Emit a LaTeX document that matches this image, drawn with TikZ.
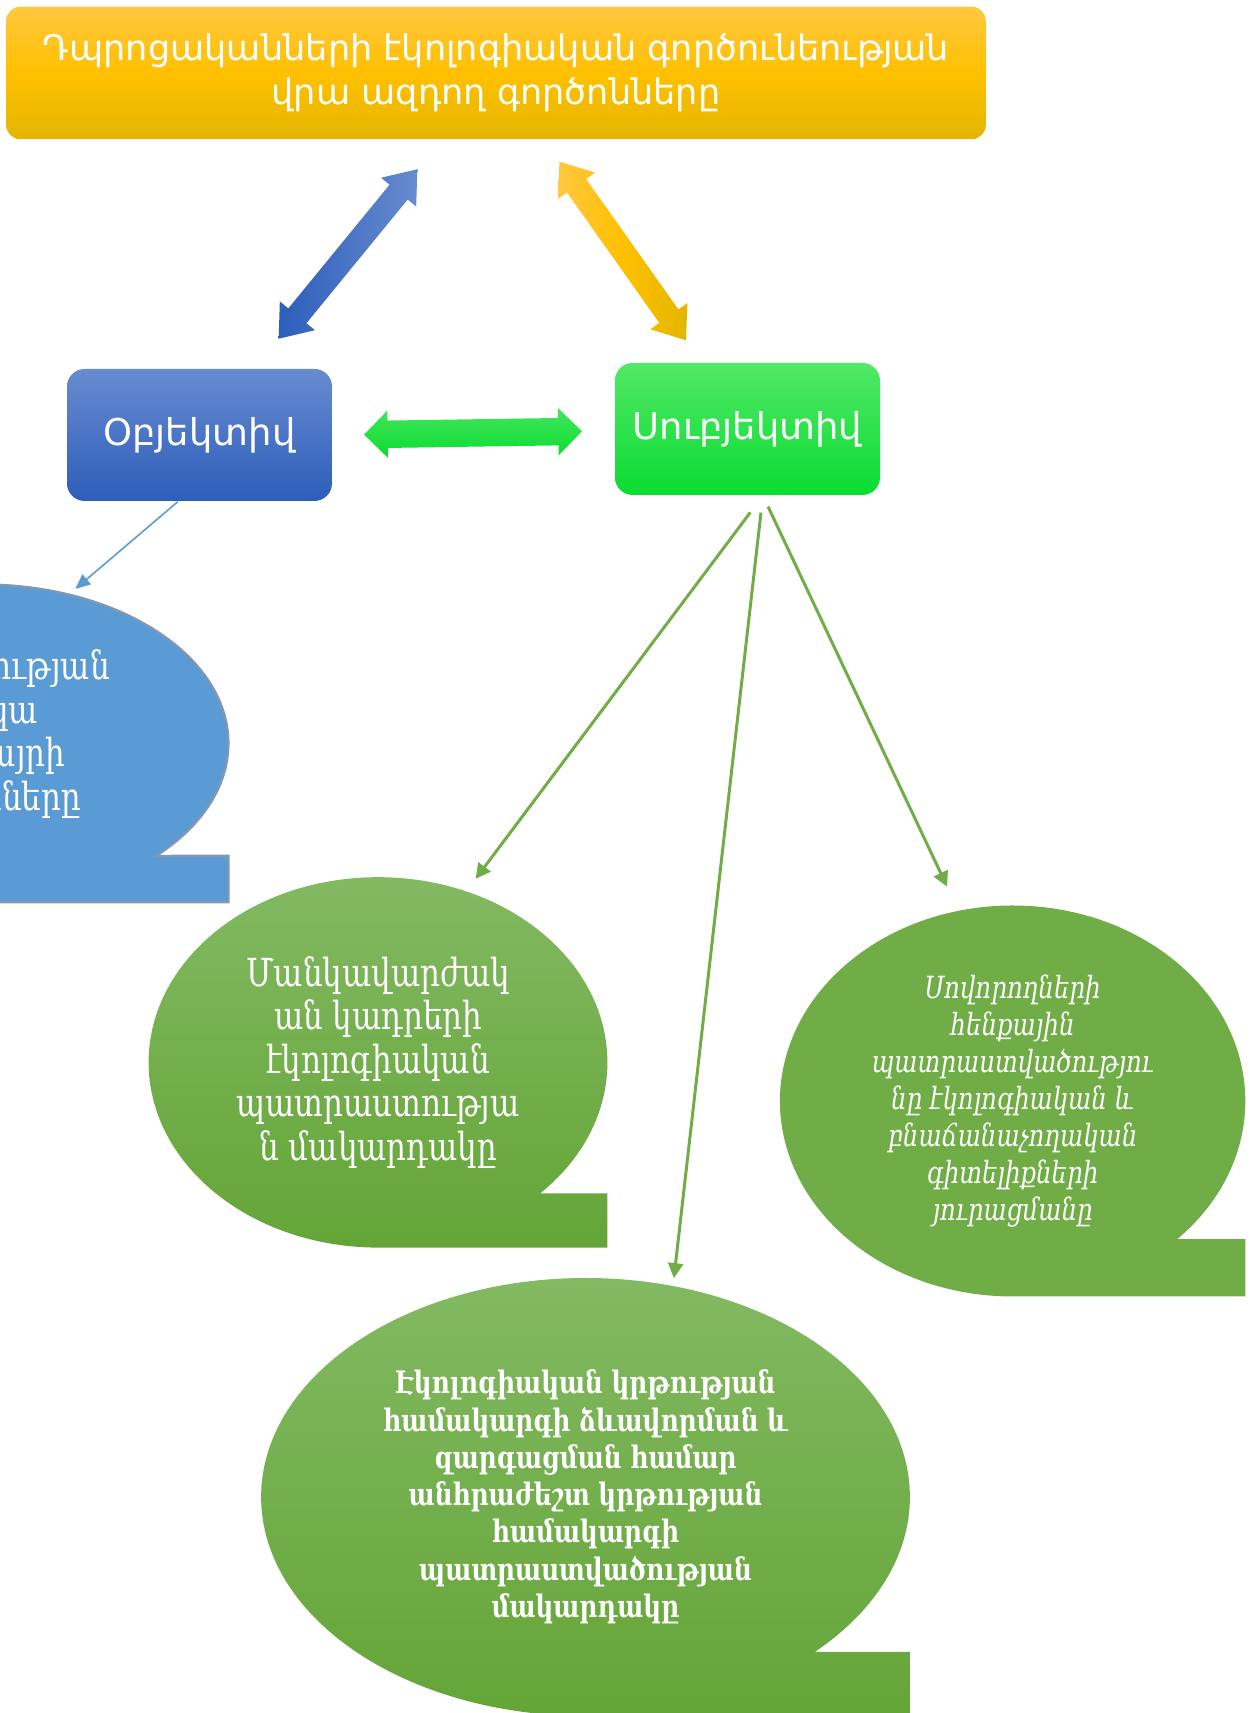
\documentclass[tikz,border=0pt]{standalone}
\usepackage{fontspec}
\setmainfont[FakeStretch=0.8]{DejaVu Serif}
\newfontfamily\armsans{DejaVu Sans}
\usepackage{tikz}
\usetikzlibrary{arrows.meta, positioning, shapes.geometric, shapes.arrows}
\definecolor{TitleTop}{RGB}{255,200,64}
\definecolor{TitleMid}{RGB}{255,192,0}
\definecolor{TitleBottom}{RGB}{228,182,0}
\definecolor{BlueTop}{RGB}{104,139,208}
\definecolor{BlueBottom}{RGB}{45,94,186}
\definecolor{LimeTop}{RGB}{82,232,102}
\definecolor{LimeBottom}{RGB}{10,220,50}
\definecolor{LeafGreen}{RGB}{112,173,71}
\definecolor{LeafTop}{RGB}{132,186,100}
\definecolor{LeafBottom}{RGB}{100,165,55}
\definecolor{SkyBlue}{RGB}{91,155,213}
\definecolor{SkyBorder}{RGB}{132,151,176}

\begin{document}
\begin{tikzpicture}[
		titleNode/.style={
			rectangle, rounded corners=4pt, draw=none,
			minimum width=9.795cm, minimum height=1.325cm,
			align=center, text=white, font=\armsans\fontsize{10}{12.4}\selectfont,
			top color=TitleTop, bottom color=TitleBottom, middle color=TitleMid
		},
		base/.style={
			rectangle, rounded corners=5pt, draw=none,
			minimum width=2.65cm, minimum height=1.32cm,
			align=center, text=white, font=\armsans\fontsize{10.5}{13}\selectfont
		},
		blueBox/.style={base, top color=BlueTop, bottom color=BlueBottom},
		limeBox/.style={base, top color=LimeTop, bottom color=LimeBottom},
		bigArrow/.style={
			double arrow, draw=none, inner xsep=0pt, inner ysep=0.11cm,
			minimum height=2.19cm,
			double arrow head extend=0.11cm, double arrow tip angle=75
		},
		blueArrow/.style={bigArrow, left color=BlueBottom, right color=BlueTop},
		yellowArrow/.style={bigArrow, left color=TitleTop, right color=TitleBottom, middle color=TitleMid},
		limeArrow/.style={bigArrow, minimum height=2.18cm, inner ysep=0.13cm,
			double arrow head extend=0.10cm, double arrow tip angle=90,
			top color=LimeTop!80!LimeBottom, bottom color=LimeBottom},
		bubbleShade/.style={top color=LeafTop, bottom color=LeafBottom},
		bubbleText/.style={ellipse, inner sep=0pt, align=center, text=white},
		greenLink/.style={-{Triangle[length=0.15cm, width=0.15cm]}, line width=0.85pt, LeafGreen},
		blueLink/.style={-{Triangle[length=0.15cm, width=0.13cm]}, line width=0.45pt, SkyBlue}
		]
		\useasboundingbox (0,0) rectangle (12.53,17.13);
		\clip (0,0) rectangle (12.53,17.13);
		
		% bubble bodies
		\path[fill=SkyBlue, draw=SkyBorder, line width=0.6pt] (-0.175,9.696) ++(-45:2.46 and 1.59) arc[start angle=-45, end angle=270, x radius=2.46, y radius=1.59] -- ++(2.46,0) -- ++(0,0.466) -- cycle;
		\path[bubbleShade] (3.78,6.506) ++(-45:2.294 and 1.852) arc[start angle=-45, end angle=270, x radius=2.294, y radius=1.852] -- ++(2.294,0) -- ++(0,0.542) -- cycle;
		\path[fill=LeafGreen] (10.126,6.12) ++(-45:2.327 and 1.955) arc[start angle=-45, end angle=270, x radius=2.327, y radius=1.955] -- ++(2.327,0) -- ++(0,0.573) -- cycle;
		\path[bubbleShade] (5.855,2.16) ++(-45:3.244 and 2.19) arc[start angle=-45, end angle=270, x radius=3.244, y radius=2.19] -- ++(3.244,0) -- ++(0,0.642) -- cycle;
		
		\node[titleNode] (title) at (4.96,16.40) {Դպրոցականների  էկոլոգիական գործունեության \\ վրա ազդող  գործոնները};
		\node[blueBox] (obj) at (1.995,12.78) {Օբյեկտիվ};
		\node[limeBox] (sub) at (7.475,12.84) {Սուբյեկտիվ};
		
		\node[blueArrow, rotate=50.7] (linkA) at (3.48,14.59) {};
		\node[yellowArrow, rotate=-54.7] (linkB) at (6.227,14.62) {};
		\node[limeArrow, rotate=0.86] (linkC) at (4.73,12.80) {};
		
		\node[bubbleText, minimum width=4.92cm, minimum height=3.18cm, outer sep=0.07cm] (env) at (-0.175,9.696) {};
		\node[bubbleText, font=\fontsize{11}{12.4}\selectfont] (envText) at (-0.27,9.79) {հաստատության\\ շրջակա\\ միջավայրի\\ պայմանները};
		\node[bubbleText, minimum width=4.588cm, minimum height=3.704cm, outer sep=0.15cm, font=\fontsize{11}{12.4}\selectfont] (staff) at (3.78,6.506) {Մանկավարժակ\\ ան կադրերի\\ էկոլոգիական\\ պատրաստությա\\ ն մակարդակը};
		\node[bubbleText, minimum width=4.654cm, minimum height=3.91cm, outer sep=0.26cm, font=\itshape\fontsize{8.7}{10.5}\selectfont] (pupil) at (10.126,6.12) {Սովորողների\\ հենքային\\ պատրաստվածությու\\ նը էկոլոգիական  և\\ բնաճանաչողական\\ գիտելիքների\\ յուրացմանը};
		\node[bubbleText, minimum width=6.488cm, minimum height=4.38cm, outer sep=0.08cm, font=\bfseries\fontsize{8.8}{10.6}\selectfont] (system) at (5.855,2.16) {Էկոլոգիական կրթության\\ համակարգի ձևավորման և\\ զարգացման  համար\\ անհրաժեշտ կրթության\\ համակարգի\\ պատրաստվածության\\ մակարդակը};
		
		\draw [blueLink] (obj.-108.6) -- (env.59.4);
		\draw [greenLink, shorten <=0.21cm] (sub.-77) -- (staff.62.8);
		\draw [greenLink, shorten <=0.17cm] (sub.-77) -- (system.68);
		\draw [greenLink, shorten <=0.12cm] (sub.-77) -- (pupil.107.5);
	\end{tikzpicture}
\end{document}
